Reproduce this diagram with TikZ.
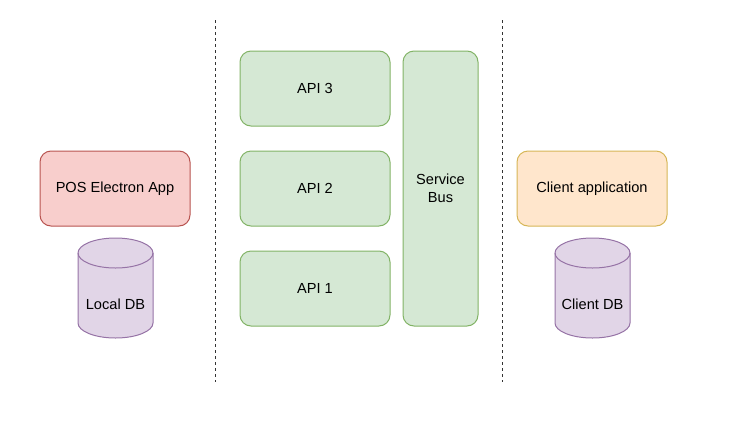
\documentclass[tikz,border=0pt]{standalone}
\usepackage{fontspec}
\setmainfont{Liberation Sans}
\definecolor{redfill}{HTML}{F8CECC}
\definecolor{redline}{HTML}{B85450}
\definecolor{greenfill}{HTML}{D5E8D4}
\definecolor{greenline}{HTML}{82B366}
\definecolor{orangefill}{HTML}{FFE6CC}
\definecolor{orangeline}{HTML}{D6B656}
\definecolor{purplefill}{HTML}{E1D5E7}
\definecolor{purpleline}{HTML}{9673A6}
\begin{document}
\begin{tikzpicture}[x=1pt,y=-1pt,
  every node/.style={font=\fontsize{14.6pt}{18pt}\selectfont, text=black},
  box/.style={rectangle, rounded corners=11pt, line width=1pt, inner sep=0pt,
    minimum width=150pt, minimum height=75pt, align=center},
  apibox/.style={box, draw=greenline, fill=greenfill},
  dbshape/.style={draw=purpleline, fill=purplefill, line width=1pt},
  divider/.style={line width=1pt, draw=black!80, dash pattern=on 3pt off 3pt}]
\useasboundingbox (0,0) rectangle (736,421);
% dividers
\coordinate (d1t) at (215,20); \coordinate (d1b) at (215,382);
\coordinate (d2t) at (502,20); \coordinate (d2b) at (502,382);
\draw[divider] (d1t) -- (d1b);
\draw[divider] (d2t) -- (d2b);
% left
\node[box, draw=redline, fill=redfill] (pos) at (115,188.5) {POS Electron App};
\draw[dbshape] (78,253) -- (78,323) arc[start angle=180, end angle=360, x radius=37.5pt, y radius=15pt]
  -- (153,253) arc[start angle=0, end angle=180, x radius=37.5pt, y radius=15pt] -- cycle;
\draw[purpleline, line width=1pt] (78,253) arc[start angle=180, end angle=360, x radius=37.5pt, y radius=15pt];
\node (ldb) at (115.5,304) {Local DB};
% middle
\node[apibox] (api3) at (315,88.5) {API 3};
\node[apibox] (api2) at (315,188.5) {API 2};
\node[apibox] (api1) at (315,288.5) {API 1};
\node[apibox, minimum width=75pt, minimum height=275pt] (bus) at (440.5,188.5) {Service\\Bus};
% right
\node[box, draw=orangeline, fill=orangefill] (client) at (592,188.5) {Client application};
\draw[dbshape] (555,253) -- (555,323) arc[start angle=180, end angle=360, x radius=37.5pt, y radius=15pt]
  -- (630,253) arc[start angle=0, end angle=180, x radius=37.5pt, y radius=15pt] -- cycle;
\draw[purpleline, line width=1pt] (555,253) arc[start angle=180, end angle=360, x radius=37.5pt, y radius=15pt];
\node (cdb) at (592.5,304) {Client DB};
\end{tikzpicture}
\end{document}
